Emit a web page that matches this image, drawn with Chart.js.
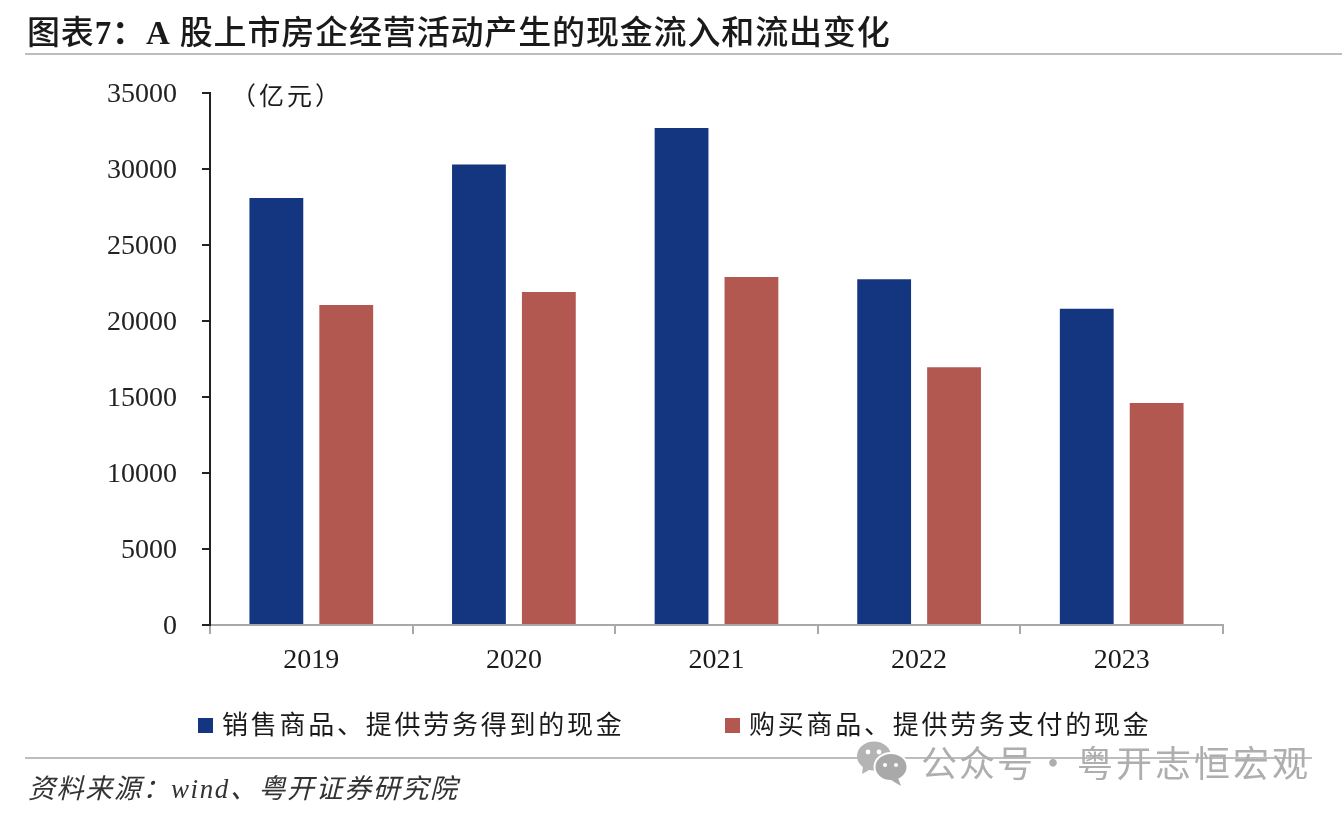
<!DOCTYPE html>
<html lang="zh">
<head>
<meta charset="utf-8">
<title>图表7</title>
<script src="https://cdn.jsdelivr.net/npm/chart.js@4"></script>
<style>
    html, body { margin: 0; padding: 0; background: #fff; }
    #page { position: relative; width: 1344px; height: 830px; overflow: hidden; }
    #page div, #page svg { position: absolute; white-space: nowrap; }
    canvas { position: absolute; left: 0; top: 0; }
    .cjk { font-family: "Liberation Serif", "Noto Sans CJK SC", serif; color: #1a1a1a; }
    #title { left: 27px; top: 11px; font-size: 33px; line-height: 44px; letter-spacing: 0.85px; font-weight: 500; }
    #title b { font-weight: 700; }
    #unit { left: 231px; top: 80px; font-size: 25px; line-height: 34px; letter-spacing: 3px; }
    .rule { background: #bdbdbd; height: 2px; }
    #ruleTop { left: 25px; top: 53px; width: 1317px; }
    #ruleBottom { left: 25px; top: 757px; width: 1287px; }
    .legend-box { width: 15px; height: 15px; top: 718px; }
    .legend-text { top: 707px; font-size: 26px; line-height: 38px; letter-spacing: 2.75px; }
    #source { left: 28px; top: 770px; font-size: 27px; line-height: 38px; font-style: italic; color: #333; letter-spacing: 1.6px; }
    #mark { left: 921px; top: 737px; font-family: "Noto Sans CJK SC", sans-serif; font-size: 36px; line-height: 48px; letter-spacing: 2px; color: #aeaeae; }
    #mark span { letter-spacing: 3px; margin-left: 4px; }
    #wechat { left: 855px; top: 741px; }
</style>
</head>
<body>
<div id="page">
    <canvas id="cashChart" width="1344" height="830"></canvas>
    <div id="title" class="cjk">图表<b>7&#xFF1A;A</b> 股上市房企经营活动产生的现金流入和流出变化</div>
    <div id="unit" class="cjk">&#xFF08;亿元&#xFF09;</div>
    <div id="ruleTop" class="rule"></div>
    <div id="ruleBottom" class="rule"></div>
    <div id="legend"></div>
    <div id="source" class="cjk">资料来源&#xFF1A;wind、粤开证券研究院</div>
    <svg width="56" height="56" viewBox="0 0 56 56" id="wechat">
        <ellipse cx="19" cy="15" rx="17" ry="14.5" fill="#b4b4b4"></ellipse>
        <path d="M8 25 L7 33 L16 28 Z" fill="#b4b4b4"></path>
        <ellipse cx="36" cy="26" rx="16.5" ry="14" fill="#a9a9a9" stroke="#fff" stroke-width="2"></ellipse>
        <path d="M43 37 L46 45 L36 39 Z" fill="#a9a9a9"></path>
        <circle cx="13" cy="11" r="2.4" fill="#fff"></circle>
        <circle cx="24" cy="11" r="2.4" fill="#fff"></circle>
        <circle cx="30" cy="24" r="2" fill="#fff"></circle>
        <circle cx="41" cy="24" r="2" fill="#fff"></circle>
    </svg>
    <div id="mark">公众号·<span>粤开志恒宏观</span></div>
</div>
<script>
// Chart data
const years = ['2019', '2020', '2021', '2022', '2023'];
const salesCash = [28100, 30300, 32700, 22750, 20800];
const purchaseCash = [21050, 21900, 22900, 16950, 14600];
const yTicks = [0, 5000, 10000, 15000, 20000, 25000, 30000, 35000];
const seriesNames = ['销售商品、提供劳务得到的现金', '购买商品、提供劳务支付的现金'];
const seriesColors = ['#14357f', '#b35751'];
const legendLeft = [198, 725];

const numberFont = { family: '"Liberation Serif", serif', size: 28 };

new Chart(document.getElementById('cashChart'), {
    type: 'bar',
    data: {
        labels: years,
        datasets: [
            { label: seriesNames[0], data: salesCash, backgroundColor: seriesColors[0] },
            { label: seriesNames[1], data: purchaseCash, backgroundColor: seriesColors[1] }
        ]
    },
    options: {
        responsive: false,
        animation: false,
        devicePixelRatio: 1,
        layout: { padding: { top: 93, right: 121, left: 0, bottom: 0 } },
        categoryPercentage: 0.69,
        barPercentage: 0.77,
        plugins: { legend: { display: false }, tooltip: { enabled: false } },
        scales: {
            x: {
                grid: { offset: true, drawOnChartArea: false, color: '#a8a8a8', tickLength: 9, lineWidth: 2 },
                border: { color: '#a8a8a8', width: 2 },
                ticks: { color: '#1a1a1a', font: numberFont, padding: 10, maxRotation: 0 },
                afterFit: (scale) => { scale.height = 205; }
            },
            y: {
                min: 0,
                max: 35000,
                afterBuildTicks: (scale) => { scale.ticks = yTicks.map(value => ({ value })); },
                grid: { drawOnChartArea: false, color: '#222', tickLength: 8, lineWidth: 2 },
                border: { color: '#222', width: 2 },
                ticks: { color: '#222', font: numberFont, padding: 25, labelOffset: 2, callback: (value) => String(value) },
                afterFit: (scale) => { scale.width = 210; }
            }
        }
    }
});

// Legend sits apart from the chart, so it is plain HTML
const legend = document.getElementById('legend');
seriesNames.forEach((name, i) => {
    legend.innerHTML += `
        <div class="legend-box" style="left:${legendLeft[i]}px;background:${seriesColors[i]}"></div>
        <div class="legend-text cjk" style="left:${legendLeft[i] + 24}px">${name}</div>
    `;
});
</script>
</body>
</html>
